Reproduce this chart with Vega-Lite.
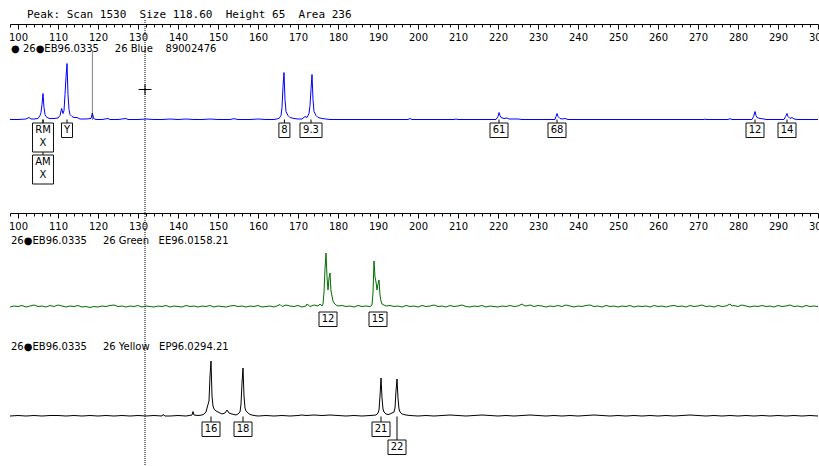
{
  "$schema": "https://vega.github.io/schema/vega-lite/v6.json",
  "width": 808,
  "height": 446,
  "autosize": {"type": "none"},
  "padding": {"left": 10, "top": 20, "right": 1, "bottom": 0},
  "background": "white",
  "title": {"text": "Peak: Scan 1530\u00a0\u00a0Size 118.60\u00a0\u00a0Height 65\u00a0\u00a0Area 236", "anchor": "start", "frame": "group", "dx": 17, "offset": -9, "baseline": "alphabetic", "font": "DejaVu Sans Mono", "fontSize": 11, "fontWeight": "normal", "color": "#000"},
  "config": {"view": {"stroke": null}},
  "datasets": {
    "blue": [
      {"size":98,"rfu":0},{"size":100,"rfu":0},{"size":102,"rfu":5},{"size":102.75,"rfu":20},{"size":103.25,"rfu":5},{"size":104,"rfu":5},{"size":105,"rfu":10},{"size":105.5,"rfu":40},{"size":105.75,"rfu":70},{"size":106,"rfu":150},{"size":106.25,"rfu":260},{"size":106.5,"rfu":120},{"size":106.75,"rfu":50},{"size":107,"rfu":30},{"size":107.5,"rfu":15},{"size":108,"rfu":10},{"size":109,"rfu":10},{"size":110,"rfu":15},{"size":110.5,"rfu":40},{"size":110.9,"rfu":110},{"size":111.25,"rfu":60},{"size":111.5,"rfu":90},{"size":111.75,"rfu":250},{"size":112,"rfu":420},{"size":112.25,"rfu":560},{"size":112.5,"rfu":250},{"size":112.75,"rfu":100},{"size":113,"rfu":50},{"size":113.5,"rfu":30},{"size":114,"rfu":20},{"size":114.75,"rfu":20},{"size":115.5,"rfu":5},{"size":117,"rfu":5},{"size":118.25,"rfu":10},{"size":118.6,"rfu":65},{"size":118.9,"rfu":10},{"size":119.5,"rfu":0},{"size":121,"rfu":0},{"size":122.5,"rfu":10},{"size":123,"rfu":0},{"size":125,"rfu":0},{"size":127,"rfu":10},{"size":127.5,"rfu":0},{"size":130,"rfu":0},{"size":132,"rfu":5},{"size":134,"rfu":0},{"size":136,"rfu":0},{"size":138,"rfu":5},{"size":140,"rfu":0},{"size":142,"rfu":5},{"size":144,"rfu":0},{"size":146,"rfu":0},{"size":148,"rfu":5},{"size":150,"rfu":0},{"size":153,"rfu":0},{"size":154,"rfu":8},{"size":155,"rfu":0},{"size":158,"rfu":0},{"size":160,"rfu":5},{"size":162,"rfu":0},{"size":164,"rfu":0},{"size":165.25,"rfu":10},{"size":165.75,"rfu":40},{"size":166,"rfu":120},{"size":166.25,"rfu":330},{"size":166.5,"rfu":470},{"size":166.75,"rfu":200},{"size":167,"rfu":80},{"size":167.5,"rfu":40},{"size":168,"rfu":20},{"size":169,"rfu":10},{"size":170,"rfu":5},{"size":171,"rfu":5},{"size":171.75,"rfu":30},{"size":172.25,"rfu":20},{"size":172.75,"rfu":60},{"size":173,"rfu":140},{"size":173.25,"rfu":300},{"size":173.5,"rfu":450},{"size":173.75,"rfu":200},{"size":174,"rfu":80},{"size":174.5,"rfu":40},{"size":175,"rfu":20},{"size":176,"rfu":10},{"size":177,"rfu":5},{"size":178,"rfu":0},{"size":190,"rfu":0},{"size":197.5,"rfu":0},{"size":198,"rfu":10},{"size":198.5,"rfu":0},{"size":209,"rfu":0},{"size":209.5,"rfu":5},{"size":210,"rfu":0},{"size":219.5,"rfu":0},{"size":220,"rfu":30},{"size":220.25,"rfu":70},{"size":220.5,"rfu":40},{"size":220.75,"rfu":20},{"size":221.5,"rfu":10},{"size":222.25,"rfu":15},{"size":222.75,"rfu":5},{"size":225,"rfu":5},{"size":226,"rfu":0},{"size":234.25,"rfu":0},{"size":234.5,"rfu":30},{"size":234.75,"rfu":60},{"size":235,"rfu":30},{"size":235.5,"rfu":10},{"size":236,"rfu":5},{"size":236.75,"rfu":10},{"size":237.5,"rfu":0},{"size":271.5,"rfu":0},{"size":271.75,"rfu":5},{"size":272,"rfu":0},{"size":277.5,"rfu":0},{"size":278,"rfu":8},{"size":278.5,"rfu":0},{"size":283.5,"rfu":0},{"size":283.9,"rfu":30},{"size":284.25,"rfu":80},{"size":284.5,"rfu":40},{"size":284.75,"rfu":20},{"size":285.5,"rfu":10},{"size":286.5,"rfu":5},{"size":287,"rfu":0},{"size":291.5,"rfu":0},{"size":291.9,"rfu":30},{"size":292.25,"rfu":60},{"size":292.5,"rfu":30},{"size":293,"rfu":10},{"size":293.5,"rfu":20},{"size":294,"rfu":5},{"size":295,"rfu":0},{"size":300,"rfu":0}
    ],
    "green": [
      {"size":98,"rfu":0},{"size":99,"rfu":10},{"size":100,"rfu":5},{"size":101,"rfu":15},{"size":102,"rfu":0},{"size":103,"rfu":10},{"size":104,"rfu":20},{"size":105,"rfu":5},{"size":106,"rfu":10},{"size":107,"rfu":0},{"size":108,"rfu":15},{"size":109,"rfu":5},{"size":110,"rfu":20},{"size":111,"rfu":10},{"size":112,"rfu":0},{"size":113,"rfu":10},{"size":114,"rfu":5},{"size":115,"rfu":15},{"size":116,"rfu":0},{"size":117,"rfu":5},{"size":118,"rfu":-5},{"size":119,"rfu":5},{"size":120,"rfu":0},{"size":121,"rfu":10},{"size":122,"rfu":5},{"size":123,"rfu":15},{"size":124,"rfu":20},{"size":125,"rfu":5},{"size":126,"rfu":10},{"size":127,"rfu":0},{"size":128,"rfu":10},{"size":129,"rfu":5},{"size":130,"rfu":15},{"size":131,"rfu":0},{"size":132,"rfu":10},{"size":133,"rfu":5},{"size":134,"rfu":0},{"size":135,"rfu":10},{"size":136,"rfu":5},{"size":137,"rfu":15},{"size":138,"rfu":0},{"size":139,"rfu":10},{"size":140,"rfu":5},{"size":141,"rfu":0},{"size":142,"rfu":15},{"size":143,"rfu":5},{"size":144,"rfu":10},{"size":145,"rfu":0},{"size":146,"rfu":10},{"size":147,"rfu":5},{"size":148,"rfu":15},{"size":149,"rfu":0},{"size":150,"rfu":10},{"size":151,"rfu":5},{"size":152,"rfu":0},{"size":153,"rfu":10},{"size":154,"rfu":15},{"size":155,"rfu":5},{"size":156,"rfu":10},{"size":157,"rfu":0},{"size":158,"rfu":10},{"size":159,"rfu":5},{"size":160,"rfu":15},{"size":161,"rfu":0},{"size":162,"rfu":5},{"size":163,"rfu":10},{"size":164,"rfu":0},{"size":165,"rfu":15},{"size":165.5,"rfu":25},{"size":166,"rfu":5},{"size":167,"rfu":20},{"size":168,"rfu":10},{"size":169,"rfu":5},{"size":170,"rfu":15},{"size":171,"rfu":0},{"size":172,"rfu":10},{"size":172.25,"rfu":30},{"size":173,"rfu":5},{"size":174,"rfu":20},{"size":175,"rfu":10},{"size":175.5,"rfu":30},{"size":176,"rfu":10},{"size":176.25,"rfu":30},{"size":176.5,"rfu":150},{"size":176.75,"rfu":380},{"size":177,"rfu":540},{"size":177.25,"rfu":300},{"size":177.5,"rfu":170},{"size":177.75,"rfu":290},{"size":178,"rfu":340},{"size":178.25,"rfu":160},{"size":178.5,"rfu":110},{"size":178.75,"rfu":60},{"size":179,"rfu":40},{"size":179.5,"rfu":20},{"size":180,"rfu":10},{"size":181,"rfu":15},{"size":182,"rfu":5},{"size":183,"rfu":10},{"size":184,"rfu":0},{"size":185,"rfu":15},{"size":186,"rfu":5},{"size":187,"rfu":10},{"size":188,"rfu":5},{"size":188.5,"rfu":20},{"size":188.75,"rfu":140},{"size":189,"rfu":460},{"size":189.25,"rfu":300},{"size":189.5,"rfu":250},{"size":189.75,"rfu":170},{"size":190,"rfu":230},{"size":190.25,"rfu":270},{"size":190.5,"rfu":120},{"size":190.75,"rfu":60},{"size":191,"rfu":30},{"size":191.5,"rfu":20},{"size":192,"rfu":10},{"size":193,"rfu":15},{"size":194,"rfu":5},{"size":195,"rfu":10},{"size":196,"rfu":0},{"size":197,"rfu":15},{"size":198,"rfu":5},{"size":199,"rfu":10},{"size":200,"rfu":0},{"size":201,"rfu":15},{"size":202,"rfu":5},{"size":203,"rfu":10},{"size":204,"rfu":20},{"size":205,"rfu":5},{"size":206,"rfu":10},{"size":207,"rfu":0},{"size":208,"rfu":15},{"size":209,"rfu":5},{"size":210,"rfu":10},{"size":211,"rfu":20},{"size":212,"rfu":5},{"size":213,"rfu":0},{"size":214,"rfu":10},{"size":215,"rfu":5},{"size":216,"rfu":15},{"size":217,"rfu":0},{"size":218,"rfu":10},{"size":219,"rfu":5},{"size":220,"rfu":0},{"size":221,"rfu":10},{"size":222,"rfu":5},{"size":223,"rfu":15},{"size":224,"rfu":5},{"size":225,"rfu":10},{"size":226,"rfu":30},{"size":226.5,"rfu":15},{"size":227,"rfu":10},{"size":228,"rfu":20},{"size":229,"rfu":5},{"size":230,"rfu":15},{"size":231,"rfu":10},{"size":232,"rfu":0},{"size":233,"rfu":10},{"size":234,"rfu":5},{"size":235,"rfu":15},{"size":236,"rfu":5},{"size":237,"rfu":20},{"size":238,"rfu":10},{"size":239,"rfu":0},{"size":240,"rfu":10},{"size":241,"rfu":5},{"size":242,"rfu":15},{"size":243,"rfu":20},{"size":244,"rfu":5},{"size":245,"rfu":10},{"size":246,"rfu":0},{"size":247,"rfu":15},{"size":248,"rfu":5},{"size":249,"rfu":10},{"size":250,"rfu":0},{"size":251,"rfu":10},{"size":252,"rfu":5},{"size":253,"rfu":15},{"size":254,"rfu":0},{"size":255,"rfu":10},{"size":256,"rfu":5},{"size":257,"rfu":10},{"size":258,"rfu":0},{"size":259,"rfu":15},{"size":260,"rfu":5},{"size":261,"rfu":10},{"size":262,"rfu":0},{"size":263,"rfu":10},{"size":264,"rfu":15},{"size":265,"rfu":5},{"size":266,"rfu":10},{"size":267,"rfu":0},{"size":268,"rfu":15},{"size":269,"rfu":5},{"size":270,"rfu":10},{"size":271,"rfu":20},{"size":272,"rfu":5},{"size":273,"rfu":10},{"size":274,"rfu":0},{"size":275,"rfu":15},{"size":276,"rfu":5},{"size":277,"rfu":10},{"size":278,"rfu":30},{"size":278.5,"rfu":10},{"size":279,"rfu":15},{"size":280,"rfu":5},{"size":281,"rfu":20},{"size":282,"rfu":10},{"size":283,"rfu":0},{"size":284,"rfu":10},{"size":285,"rfu":5},{"size":286,"rfu":15},{"size":287,"rfu":5},{"size":288,"rfu":10},{"size":289,"rfu":0},{"size":290,"rfu":15},{"size":291,"rfu":5},{"size":292,"rfu":10},{"size":293,"rfu":20},{"size":294,"rfu":5},{"size":295,"rfu":10},{"size":296,"rfu":0},{"size":297,"rfu":15},{"size":298,"rfu":5},{"size":299,"rfu":10},{"size":300,"rfu":5}
    ],
    "yellow": [
      {"size":98,"rfu":0},{"size":100,"rfu":5},{"size":102,"rfu":0},{"size":104,"rfu":5},{"size":106,"rfu":0},{"size":108,"rfu":5},{"size":110,"rfu":5},{"size":112,"rfu":0},{"size":114,"rfu":5},{"size":116,"rfu":0},{"size":118,"rfu":5},{"size":120,"rfu":0},{"size":122,"rfu":5},{"size":124,"rfu":0},{"size":126,"rfu":5},{"size":128,"rfu":0},{"size":130,"rfu":5},{"size":132,"rfu":0},{"size":134,"rfu":5},{"size":136,"rfu":0},{"size":136.25,"rfu":15},{"size":136.75,"rfu":0},{"size":138,"rfu":0},{"size":140,"rfu":5},{"size":142,"rfu":0},{"size":143.5,"rfu":10},{"size":143.75,"rfu":45},{"size":144,"rfu":10},{"size":145,"rfu":5},{"size":146,"rfu":10},{"size":146.5,"rfu":20},{"size":147,"rfu":40},{"size":147.25,"rfu":80},{"size":147.75,"rfu":150},{"size":148,"rfu":400},{"size":148.25,"rfu":550},{"size":148.5,"rfu":200},{"size":148.75,"rfu":100},{"size":149,"rfu":70},{"size":149.5,"rfu":50},{"size":150,"rfu":40},{"size":150.5,"rfu":30},{"size":151,"rfu":20},{"size":151.75,"rfu":30},{"size":152.25,"rfu":60},{"size":152.75,"rfu":30},{"size":153.5,"rfu":20},{"size":154.5,"rfu":10},{"size":155,"rfu":20},{"size":155.5,"rfu":40},{"size":155.75,"rfu":120},{"size":156,"rfu":330},{"size":156.25,"rfu":480},{"size":156.5,"rfu":200},{"size":156.75,"rfu":80},{"size":157,"rfu":50},{"size":157.5,"rfu":30},{"size":158,"rfu":15},{"size":159,"rfu":5},{"size":160,"rfu":0},{"size":162,"rfu":5},{"size":164,"rfu":0},{"size":166,"rfu":5},{"size":168,"rfu":0},{"size":170,"rfu":5},{"size":171,"rfu":10},{"size":172,"rfu":5},{"size":174,"rfu":10},{"size":176,"rfu":5},{"size":178,"rfu":10},{"size":180,"rfu":5},{"size":182,"rfu":0},{"size":184,"rfu":5},{"size":186,"rfu":0},{"size":188,"rfu":5},{"size":189.5,"rfu":10},{"size":190,"rfu":30},{"size":190.25,"rfu":60},{"size":190.5,"rfu":200},{"size":190.75,"rfu":380},{"size":191,"rfu":180},{"size":191.25,"rfu":70},{"size":191.5,"rfu":40},{"size":192,"rfu":20},{"size":192.5,"rfu":15},{"size":193,"rfu":20},{"size":193.5,"rfu":30},{"size":193.75,"rfu":35},{"size":194,"rfu":40},{"size":194.25,"rfu":80},{"size":194.5,"rfu":250},{"size":194.75,"rfu":370},{"size":195,"rfu":180},{"size":195.25,"rfu":70},{"size":195.5,"rfu":40},{"size":196,"rfu":20},{"size":197,"rfu":10},{"size":198,"rfu":5},{"size":200,"rfu":0},{"size":202,"rfu":5},{"size":204,"rfu":0},{"size":206,"rfu":5},{"size":208,"rfu":10},{"size":210,"rfu":5},{"size":212,"rfu":0},{"size":214,"rfu":5},{"size":216,"rfu":10},{"size":218,"rfu":5},{"size":220,"rfu":0},{"size":222,"rfu":5},{"size":224,"rfu":0},{"size":226,"rfu":5},{"size":228,"rfu":10},{"size":230,"rfu":5},{"size":232,"rfu":0},{"size":234,"rfu":5},{"size":236,"rfu":0},{"size":238,"rfu":5},{"size":240,"rfu":0},{"size":242,"rfu":5},{"size":244,"rfu":10},{"size":246,"rfu":5},{"size":248,"rfu":0},{"size":250,"rfu":5},{"size":252,"rfu":0},{"size":254,"rfu":5},{"size":256,"rfu":0},{"size":258,"rfu":5},{"size":260,"rfu":0},{"size":262,"rfu":5},{"size":264,"rfu":0},{"size":266,"rfu":5},{"size":268,"rfu":10},{"size":270,"rfu":5},{"size":272,"rfu":0},{"size":274,"rfu":5},{"size":276,"rfu":0},{"size":278,"rfu":5},{"size":280,"rfu":0},{"size":282,"rfu":5},{"size":284,"rfu":0},{"size":286,"rfu":5},{"size":288,"rfu":0},{"size":290,"rfu":5},{"size":292,"rfu":0},{"size":294,"rfu":5},{"size":296,"rfu":0},{"size":298,"rfu":5},{"size":300,"rfu":0}
    ],
    "alleles": [
      {"dye":"Blue","size":106.25,"label":"RM\nX","tier":1,"from":0},
      {"dye":"Blue","size":106.25,"label":"AM\nX","tier":2,"from":0},
      {"dye":"Blue","size":112.25,"label":"Y","tier":1,"from":0},
      {"dye":"Blue","size":166.6,"label":"8","tier":1,"from":0},
      {"dye":"Blue","size":173.25,"label":"9.3","tier":1,"from":0},
      {"dye":"Blue","size":220.25,"label":"61","tier":1,"from":0},
      {"dye":"Blue","size":234.75,"label":"68","tier":1,"from":0},
      {"dye":"Blue","size":284.25,"label":"12","tier":1,"from":0},
      {"dye":"Blue","size":292.25,"label":"14","tier":1,"from":0},
      {"dye":"Green","size":177.5,"label":"12","tier":1,"from":0},
      {"dye":"Green","size":190,"label":"15","tier":1,"from":0},
      {"dye":"Yellow","size":148.25,"label":"16","tier":1,"from":0},
      {"dye":"Yellow","size":156.25,"label":"18","tier":1,"from":0},
      {"dye":"Yellow","size":190.75,"label":"21","tier":1,"from":0},
      {"dye":"Yellow","size":194.75,"label":"22","tier":2,"from":0}
    ],
    "headers": [
      {"slot":1,"text":"● 26●EB96.0335\u00a0\u00a0\u00a0\u00a0\u00a026 Blue\u00a0\u00a0\u00a0\u00a089002476"},
      {"slot":2,"text":"\u200226●EB96.0335\u00a0\u00a0\u00a0\u00a0\u00a026 Green\u00a0\u00a0\u00a0EE96.0158.21"},
      {"slot":3,"text":"\u200226●EB96.0335\u00a0\u00a0\u00a0\u00a0\u00a026 Yellow\u00a0\u00a0\u00a0EP96.0294.21"}
    ],
    "cursor": [{"size":131.75,"rfu":300}],
    "peak": [{"size":118.6,"height":65,"rfu_low":0,"rfu_high":700}]
  },
  "layer": [
    {
      "data": {"name": "blue"},
      "mark": {"type": "line", "color": "#0000ff", "strokeWidth": 1},
      "encoding": {
        "x": {"field": "size", "type": "quantitative", "scale": {"domain": [98, 300], "nice": false, "zero": false},
          "axis": {"orient": "bottom", "offset": -442, "values": [98,100,102,104,106,108,110,112,114,116,118,120,122,124,126,128,130,132,134,136,138,140,142,144,146,148,150,152,154,156,158,160,162,164,166,168,170,172,174,176,178,180,182,184,186,188,190,192,194,196,198,200,202,204,206,208,210,212,214,216,218,220,222,224,226,228,230,232,234,236,238,240,242,244,246,248,250,252,254,256,258,260,262,264,266,268,270,272,274,276,278,280,282,284,286,288,290,292,294,296,298,300],
            "labelExpr": "datum.value % 10 === 0 ? datum.label : ''", "labelOverlap": false, "labelFlush": false, "labelBound": false,
            "labelFont": "DejaVu Sans", "labelFontSize": 10, "labelColor": "#000", "labelPadding": 3,
            "tickSize": {"condition": {"test": "datum.value % 10 === 0", "value": 5}, "value": 3},
            "tickColor": "#000", "tickWidth": 1, "domainColor": "#000", "domainWidth": 1, "grid": false, "title": null, "format": "d"}},
        "y": {"field": "rfu", "type": "quantitative", "scale": {"domain": [0, 700], "range": [99.5, 29.5], "nice": false, "zero": false}, "axis": null}
      }
    },
    {
      "data": {"name": "green"},
      "mark": {"type": "line", "color": "#006e00", "strokeWidth": 1},
      "encoding": {
        "x": {"field": "size", "type": "quantitative", "scale": {"domain": [98, 300], "nice": false, "zero": false},
          "axis": {"orient": "bottom", "offset": -253, "values": [98,100,102,104,106,108,110,112,114,116,118,120,122,124,126,128,130,132,134,136,138,140,142,144,146,148,150,152,154,156,158,160,162,164,166,168,170,172,174,176,178,180,182,184,186,188,190,192,194,196,198,200,202,204,206,208,210,212,214,216,218,220,222,224,226,228,230,232,234,236,238,240,242,244,246,248,250,252,254,256,258,260,262,264,266,268,270,272,274,276,278,280,282,284,286,288,290,292,294,296,298,300],
            "labelExpr": "datum.value % 10 === 0 ? datum.label : ''", "labelOverlap": false, "labelFlush": false, "labelBound": false,
            "labelFont": "DejaVu Sans", "labelFontSize": 10, "labelColor": "#000", "labelPadding": 3,
            "tickSize": {"condition": {"test": "datum.value % 10 === 0", "value": 5}, "value": 3},
            "tickColor": "#000", "tickWidth": 1, "domainColor": "#000", "domainWidth": 1, "grid": false, "title": null, "format": "d"}},
        "y": {"field": "rfu", "type": "quantitative", "scale": {"domain": [0, 600], "range": [287, 227], "nice": false, "zero": false}, "axis": null}
      }
    },
    {
      "data": {"name": "yellow"},
      "mark": {"type": "line", "color": "#000000", "strokeWidth": 1},
      "encoding": {
        "x": {"field": "size", "type": "quantitative", "scale": {"domain": [98, 300], "nice": false, "zero": false}, "axis": null},
        "y": {"field": "rfu", "type": "quantitative", "scale": {"domain": [0, 600], "range": [396, 336], "nice": false, "zero": false}, "axis": null}
      }
    },
    {
      "data": {"name": "headers"},
      "mark": {"type": "text", "align": "left", "baseline": "middle", "font": "DejaVu Sans", "fontSize": 10, "color": "#000"},
      "encoding": {
        "x": {"datum": 98.25, "type": "quantitative", "scale": {"domain": [98, 300], "nice": false, "zero": false}, "axis": null},
        "y": {"field": "slot", "type": "quantitative", "scale": {"domain": [1, 2, 3], "range": [29, 221, 327], "nice": false, "zero": false}, "axis": null},
        "text": {"field": "text"}
      }
    },
    {
      "data": {"name": "cursor"},
      "mark": {"type": "rule", "color": "#000", "strokeWidth": 1, "strokeDash": [1, 1]},
      "encoding": {
        "x": {"field": "size", "type": "quantitative", "scale": {"domain": [98, 300], "nice": false, "zero": false}, "axis": null}
      }
    },
    {
      "data": {"name": "cursor"},
      "mark": {"type": "point", "shape": "M-1,0L1,0M0,-0.8L0,0.8", "size": 169, "filled": false, "stroke": "#000", "strokeWidth": 1, "opacity": 1},
      "encoding": {
        "x": {"field": "size", "type": "quantitative", "scale": {"domain": [98, 300], "nice": false, "zero": false}, "axis": null},
        "y": {"field": "rfu", "type": "quantitative", "scale": {"domain": [0, 700], "range": [99.5, 29.5], "nice": false, "zero": false}, "axis": null}
      }
    },
    {
      "data": {"name": "peak"},
      "mark": {"type": "rule", "color": "#000", "strokeWidth": 1, "strokeDash": [1, 1]},
      "encoding": {
        "x": {"field": "size", "type": "quantitative", "scale": {"domain": [98, 300], "nice": false, "zero": false}, "axis": null},
        "y": {"field": "rfu_low", "type": "quantitative", "scale": {"domain": [0, 700], "range": [99.5, 29.5], "nice": false, "zero": false}, "axis": null},
        "y2": {"field": "rfu_high"}
      }
    },
    {
      "data": {"name": "alleles"},
      "transform": [{"filter": "datum.dye === 'Blue'"}],
      "mark": {"type": "rule", "color": "#000", "strokeWidth": 1},
      "encoding": {
        "x": {"field": "size", "type": "quantitative", "scale": {"domain": [98, 300], "nice": false, "zero": false}, "axis": null},
        "y": {"field": "from", "type": "quantitative", "scale": {"domain": [0, 1, 2], "range": [99.5, 103, 135], "nice": false, "zero": false}, "axis": null},
        "y2": {"field": "tier"}
      }
    },
    {
      "data": {"name": "alleles"},
      "transform": [{"filter": "datum.dye === 'Blue'"}, {"calculate": "length(datum.label)", "as": "w"}],
      "mark": {"type": "point", "size": 400, "filled": true, "fill": "white", "stroke": "#111", "strokeWidth": 1, "opacity": 1},
      "encoding": {
        "x": {"field": "size", "type": "quantitative", "scale": {"domain": [98, 300], "nice": false, "zero": false}, "axis": null},
        "y": {"field": "tier", "type": "quantitative", "scale": {"domain": [0, 1, 2], "range": [99.5, 103, 135], "nice": false, "zero": false}, "axis": null},
        "shape": {"field": "w", "type": "nominal", "legend": null, "scale": {"domain": [1, 2, 3, 4], "range": ["M-0.55,0L0.55,0L0.55,1.45L-0.55,1.45Z", "M-0.9,0L0.9,0L0.9,1.45L-0.9,1.45Z", "M-1.1,0L1.1,0L1.1,1.45L-1.1,1.45Z", "M-1.05,0L1.05,0L1.05,2.9L-1.05,2.9Z"]}}
      }
    },
    {
      "data": {"name": "alleles"},
      "transform": [{"filter": "datum.dye === 'Blue'"}],
      "mark": {"type": "text", "align": "center", "baseline": "top", "dy": 1.5, "lineBreak": "\n", "lineHeight": 13, "font": "DejaVu Sans", "fontSize": 10, "color": "#000"},
      "encoding": {
        "x": {"field": "size", "type": "quantitative", "scale": {"domain": [98, 300], "nice": false, "zero": false}, "axis": null},
        "y": {"field": "tier", "type": "quantitative", "scale": {"domain": [0, 1, 2], "range": [99.5, 103, 135], "nice": false, "zero": false}, "axis": null},
        "text": {"field": "label"}
      }
    },
    {
      "data": {"name": "alleles"},
      "transform": [{"filter": "datum.dye === 'Green'"}, {"calculate": "length(datum.label)", "as": "w"}],
      "mark": {"type": "point", "size": 400, "filled": true, "fill": "white", "stroke": "#111", "strokeWidth": 1, "opacity": 1},
      "encoding": {
        "x": {"field": "size", "type": "quantitative", "scale": {"domain": [98, 300], "nice": false, "zero": false}, "axis": null},
        "y": {"field": "tier", "type": "quantitative", "scale": {"domain": [0, 1], "range": [287.5, 292], "nice": false, "zero": false}, "axis": null},
        "shape": {"field": "w", "type": "nominal", "legend": null, "scale": {"domain": [1, 2, 3, 4], "range": ["M-0.55,0L0.55,0L0.55,1.45L-0.55,1.45Z", "M-0.9,0L0.9,0L0.9,1.45L-0.9,1.45Z", "M-1.1,0L1.1,0L1.1,1.45L-1.1,1.45Z", "M-1.05,0L1.05,0L1.05,2.9L-1.05,2.9Z"]}}
      }
    },
    {
      "data": {"name": "alleles"},
      "transform": [{"filter": "datum.dye === 'Green'"}],
      "mark": {"type": "text", "align": "center", "baseline": "top", "dy": 1.5, "lineBreak": "\n", "lineHeight": 13, "font": "DejaVu Sans", "fontSize": 10, "color": "#000"},
      "encoding": {
        "x": {"field": "size", "type": "quantitative", "scale": {"domain": [98, 300], "nice": false, "zero": false}, "axis": null},
        "y": {"field": "tier", "type": "quantitative", "scale": {"domain": [0, 1], "range": [287.5, 292], "nice": false, "zero": false}, "axis": null},
        "text": {"field": "label"}
      }
    },
    {
      "data": {"name": "alleles"},
      "transform": [{"filter": "datum.dye === 'Yellow'"}],
      "mark": {"type": "rule", "color": "#000", "strokeWidth": 1},
      "encoding": {
        "x": {"field": "size", "type": "quantitative", "scale": {"domain": [98, 300], "nice": false, "zero": false}, "axis": null},
        "y": {"field": "from", "type": "quantitative", "scale": {"domain": [0, 1, 2], "range": [396.5, 402, 420], "nice": false, "zero": false}, "axis": null},
        "y2": {"field": "tier"}
      }
    },
    {
      "data": {"name": "alleles"},
      "transform": [{"filter": "datum.dye === 'Yellow'"}, {"calculate": "length(datum.label)", "as": "w"}],
      "mark": {"type": "point", "size": 400, "filled": true, "fill": "white", "stroke": "#111", "strokeWidth": 1, "opacity": 1},
      "encoding": {
        "x": {"field": "size", "type": "quantitative", "scale": {"domain": [98, 300], "nice": false, "zero": false}, "axis": null},
        "y": {"field": "tier", "type": "quantitative", "scale": {"domain": [0, 1, 2], "range": [396.5, 402, 420], "nice": false, "zero": false}, "axis": null},
        "shape": {"field": "w", "type": "nominal", "legend": null, "scale": {"domain": [1, 2, 3, 4], "range": ["M-0.55,0L0.55,0L0.55,1.45L-0.55,1.45Z", "M-0.9,0L0.9,0L0.9,1.45L-0.9,1.45Z", "M-1.1,0L1.1,0L1.1,1.45L-1.1,1.45Z", "M-1.05,0L1.05,0L1.05,2.9L-1.05,2.9Z"]}}
      }
    },
    {
      "data": {"name": "alleles"},
      "transform": [{"filter": "datum.dye === 'Yellow'"}],
      "mark": {"type": "text", "align": "center", "baseline": "top", "dy": 1.5, "lineBreak": "\n", "lineHeight": 13, "font": "DejaVu Sans", "fontSize": 10, "color": "#000"},
      "encoding": {
        "x": {"field": "size", "type": "quantitative", "scale": {"domain": [98, 300], "nice": false, "zero": false}, "axis": null},
        "y": {"field": "tier", "type": "quantitative", "scale": {"domain": [0, 1, 2], "range": [396.5, 402, 420], "nice": false, "zero": false}, "axis": null},
        "text": {"field": "label"}
      }
    }
  ],
  "resolve": {"scale": {"y": "independent"}, "axis": {"x": "independent"}}
}
